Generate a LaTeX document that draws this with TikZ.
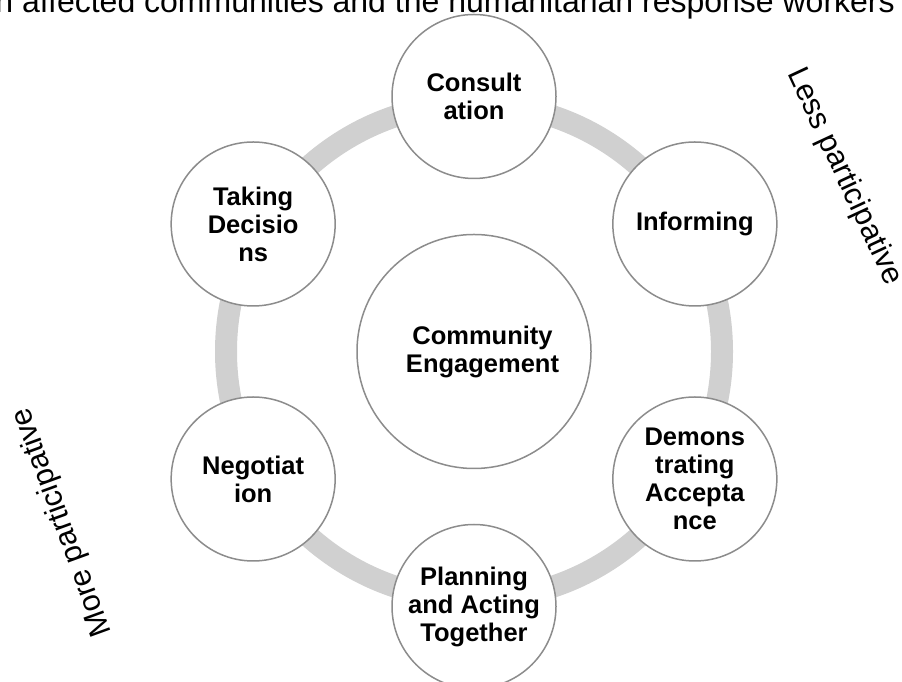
\documentclass[tikz,border=0pt]{standalone}
\usepackage{fontspec}
\setmainfont{Liberation Sans}
\usetikzlibrary{calc}
\definecolor{ringgray}{HTML}{D0D0D0}
\definecolor{edgegray}{HTML}{8C8C8C}
\begin{document}
\begin{tikzpicture}[x=1pt,y=1pt,
  ringline/.style={draw=ringgray, line width=22pt},
  bubble/.style={circle, draw=edgegray, line width=1.5pt, fill=white,
    minimum size=164pt, inner sep=0pt, align=center,
    font=\fontsize{25.5}{28}\selectfont\bfseries},
  hub/.style={bubble, minimum size=234pt},
  hubtext/.style={align=center, inner sep=0pt, font=\fontsize{25.5}{28}\selectfont\bfseries},
  sidelabel/.style={inner sep=0pt, font=\fontsize{30.5}{34}\selectfont},
  titletext/.style={inner sep=0pt, font=\fontsize{32}{36}\selectfont}]
\useasboundingbox (0,0) rectangle (902,682);
\coordinate (c) at (474,330.5);
\draw[ringline] (c) circle (248);
\node[hub] (hub) at (c) {};
\node[hubtext] (hubt) at ([xshift=8.5pt]c) {Community\\Engagement};
\node[bubble] (cons) at ([shift={(90:255)}]c) {Consult\\ation};
\node[bubble] (info) at ([shift={(30:255)}]c) {Informing};
\node[bubble] (demo) at ([shift={(-30:255)}]c) {Demons\\trating\\Accepta\\nce};
\node[bubble] (plan) at ([shift={(-90:255)}]c) {Planning\\and Acting\\Together};
\node[bubble] (nego) at ([shift={(210:255)}]c) {Negotiat\\ion};
\node[bubble] (take) at ([shift={(150:255)}]c) {Taking\\Decisio\\ns};
\node[titletext, anchor=base east] (title) at (895,669) {n affected communities and the humanitarian response workers};
\node[sidelabel, rotate=-65] (less) at (844,505.5) {Less participative};
\node[sidelabel, rotate=110] (more) at (62.5,160) {More participative};
\end{tikzpicture}
\end{document}
